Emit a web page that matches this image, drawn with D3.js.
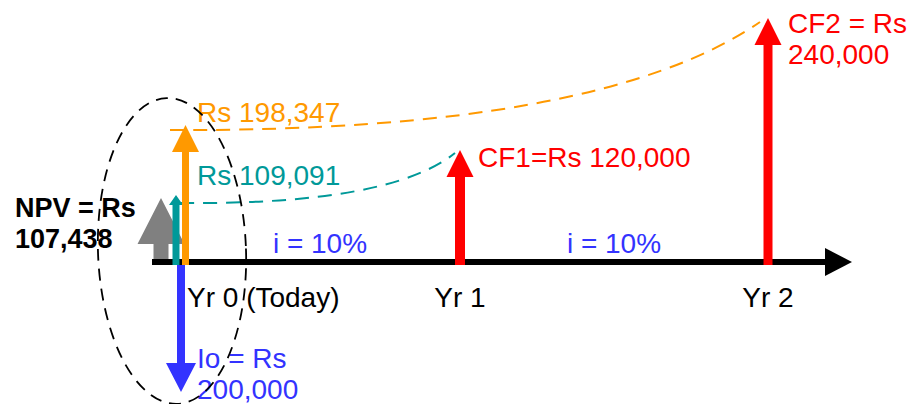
<!DOCTYPE html>
<html>
<head>
<meta charset="utf-8">
<script src="https://cdn.jsdelivr.net/npm/d3@7"></script>
<style>
  body { margin: 0; background: #fff; }
  svg text { font-family: "Liberation Sans", Arial, sans-serif; }
</style>
</head>
<body>
<script>
// cash flow data
let years = [0, 1, 2];
let yearLabels = ["Yr 0 (Today)", "Yr 1", "Yr 2"];
let cashFlows = [-200000, 120000, 240000];
let presentValues = [109091, 198347];   // PV of CF1, PV of CF2
let npv = 107438;
let rateLabel = "i = 10%";

let width = 917, height = 404;
let fmt = d3.format(",");

let svg = d3.select("body").append("svg")
    .attr("width", width)
    .attr("height", height);

// year positions along the time line
let x = d3.scaleLinear().domain([0, 1, 2]).range([180, 460, 768]);

// schematic (not to scale) arrow heights, as in the original diagram
let y = d3.scaleLinear()
    .domain([-200000, 0, 107438, 109091, 120000, 198347, 240000])
    .range([392, 262, 198, 195, 150, 125, 18]);

let axisY = y(0);

function arrow(cx, value, shaftW, headW, headLen, color, base) {
    let tip = y(value);
    let dir = value >= 0 ? 1 : -1;          // 1 = up, -1 = down
    let b = base === undefined ? axisY + 3 * dir : base;
    let neck = tip + headLen * dir;
    let pts = [
        [cx - shaftW / 2, b], [cx - shaftW / 2, neck], [cx - headW / 2, neck],
        [cx, tip], [cx + headW / 2, neck], [cx + shaftW / 2, neck], [cx + shaftW / 2, b]
    ];
    svg.append("path")
        .attr("d", d3.line()(pts) + "Z")
        .attr("fill", color);
}

function label(lines, tx, ty, color, bold, anchor) {
    let t = svg.append("text")
        .attr("x", tx)
        .attr("y", ty)
        .attr("fill", color)
        .attr("text-anchor", anchor || "start")
        .style("font-size", bold ? "27px" : "28px")
        .style("font-weight", bold ? "bold" : "normal");
    lines.forEach(function(l, i) {
        t.append("tspan").attr("x", tx).attr("dy", i === 0 ? 0 : 31).text(l);
    });
}

// NPV arrow sits behind the time line
arrow(x(0) - 19, npv, 15, 47, 46, "#808080", axisY);

// time line
svg.append("line")
    .attr("x1", 152).attr("x2", 828)
    .attr("y1", axisY).attr("y2", axisY)
    .attr("stroke", "#000").attr("stroke-width", 6);
svg.append("path")
    .attr("d", d3.line()([[825, axisY - 14], [852, axisY], [825, axisY + 14]]) + "Z")
    .attr("fill", "#000");

// discounting curves from each cash flow back to today
let pvColors = ["#009999", "#FF9900"];
presentValues.forEach(function(pv, i) {
    let sx = x(0) + (i === 0 ? 0 : -10), sy = y(pv) + (i === 0 ? 8 : 5);
    let ex = x(years[i + 1]) - (i === 0 ? 5 : 8), ey = y(cashFlows[i + 1]) + (i === 0 ? 3 : 4);
    let cx = i === 0 ? 390 : 600;
    let p = d3.path();
    p.moveTo(sx, sy);
    p.quadraticCurveTo(cx, sy + 2, ex, ey);
    svg.append("path")
        .attr("d", p.toString())
        .attr("fill", "none")
        .attr("stroke", pvColors[i])
        .attr("stroke-width", 2)
        .attr("stroke-dasharray", "14,9");
});

// present value arrows at year 0
arrow(x(0) - 4, presentValues[0], 7, 14, 10, pvColors[0]);
arrow(x(0) + 5.5, presentValues[1], 7, 27, 27, pvColors[1]);

// initial outlay
arrow(x(0) + 1, cashFlows[0], 8, 30, 29, "#3333FF", axisY + 3);

// future cash flows
arrow(x(1), cashFlows[1], 10, 27, 27, "#FF0000");
arrow(x(2), cashFlows[2], 9, 27, 27, "#FF0000");

// labels
label(["Rs " + fmt(presentValues[1])], 197, y(presentValues[1]) - 3, pvColors[1]);
label(["Rs " + fmt(presentValues[0])], 197, y(presentValues[0]) - 10, pvColors[0]);
label(["CF1=Rs " + fmt(cashFlows[1])], x(1) + 18, y(cashFlows[1]) + 17, "#FF0000");
label(["CF2 = Rs", fmt(cashFlows[2])], x(2) + 20, y(cashFlows[2]) + 15, "#FF0000");
label(["NPV = Rs", fmt(npv)], 15, 217, "#000", true);
label(["Io = Rs", fmt(-cashFlows[0])], 197, 368, "#3333FF");

// interest rate between years
[0, 1].forEach(function(i) {
    label([rateLabel], (x(years[i]) + x(years[i + 1])) / 2, axisY - 9, "#3333FF", false, "middle");
});

// year labels
years.forEach(function(yr, i) {
    if (i === 0) label([yearLabels[i]], x(yr) + 7, 307, "#000");
    else label([yearLabels[i]], x(yr), 307, "#000", false, "middle");
});

// dashed ellipse around today's values
svg.append("ellipse")
    .attr("cx", 172).attr("cy", 251)
    .attr("rx", 74).attr("ry", 153)
    .attr("transform", "rotate(-2,172,251)")
    .attr("fill", "none")
    .attr("stroke", "#000")
    .attr("stroke-width", 1.8)
    .attr("stroke-dasharray", "12,8");
</script>
</body>
</html>
